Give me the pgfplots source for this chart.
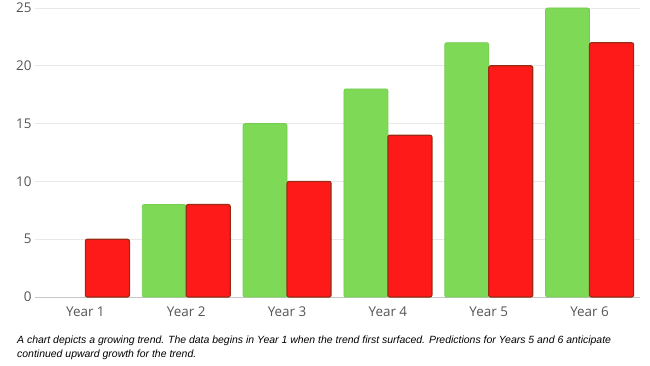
\documentclass[border=0pt]{standalone}
\usepackage{fontspec}
\setmainfont{Open Sans}
\newfontfamily\capfont{Liberation Sans}
\usepackage{pgfplots}
\pgfplotsset{compat=1.18}
\definecolor{gr}{HTML}{7ED957}
\definecolor{grb}{HTML}{76CC52}
\definecolor{rd}{HTML}{FF1A1A}
\definecolor{rdb}{HTML}{9A2A14}
\definecolor{lbl}{HTML}{555555}
\begin{document}
\begin{tikzpicture}[x=1bp,y=1bp]
\useasboundingbox (0,0) rectangle (650,365);
\begin{axis}[
  at={(35bp,68bp)}, anchor=south west,
  scale only axis, width=605bp, height=289bp,
  xmin=-0.5, xmax=5.5, ymin=0, ymax=25,
  ytick={0,5,10,15,20,25},
  xtick={0,1,2,3,4,5},
  xticklabels={Year 1,Year 2,Year 3,Year 4,Year 5,Year 6},
  ymajorgrids, grid style={draw=gray!18, line width=0.8bp},
  axis x line*=bottom, axis y line*=left,
  x axis line style={draw=gray!45, line width=0.8bp, -},
  y axis line style={draw=none},
  major tick length=0pt,
  tick label style={font=\fontsize{13.5}{13.5}\selectfont, text=lbl},
  xticklabel style={yshift=-6bp},
  /pgf/number format/assume math mode=true,
  ybar, bar width=44bp,
]
\addplot[fill=gr, draw=grb, line width=0.8bp, rounded corners=2bp, bar shift=-22bp]
  coordinates {(1,8) (2,15) (3,18) (4,22) (5,25)};
\addplot[fill=rd, draw=rdb, line width=1.2bp, rounded corners=2bp, bar shift=22bp]
  coordinates {(0,5) (1,8) (2,10) (3,14) (4,20) (5,22)};
\end{axis}
\node[anchor=base west, inner sep=0pt, font=\capfont\itshape\fontsize{10.5}{12}\selectfont] at (17,22)
  {A chart depicts a growing trend. The data begins in Year 1 when the trend first surfaced. Predictions for Years 5 and 6 anticipate};
\node[anchor=base west, inner sep=0pt, font=\capfont\itshape\fontsize{10.5}{12}\selectfont] at (17,8)
  {continued upward growth for the trend.};
\end{tikzpicture}
\end{document}
